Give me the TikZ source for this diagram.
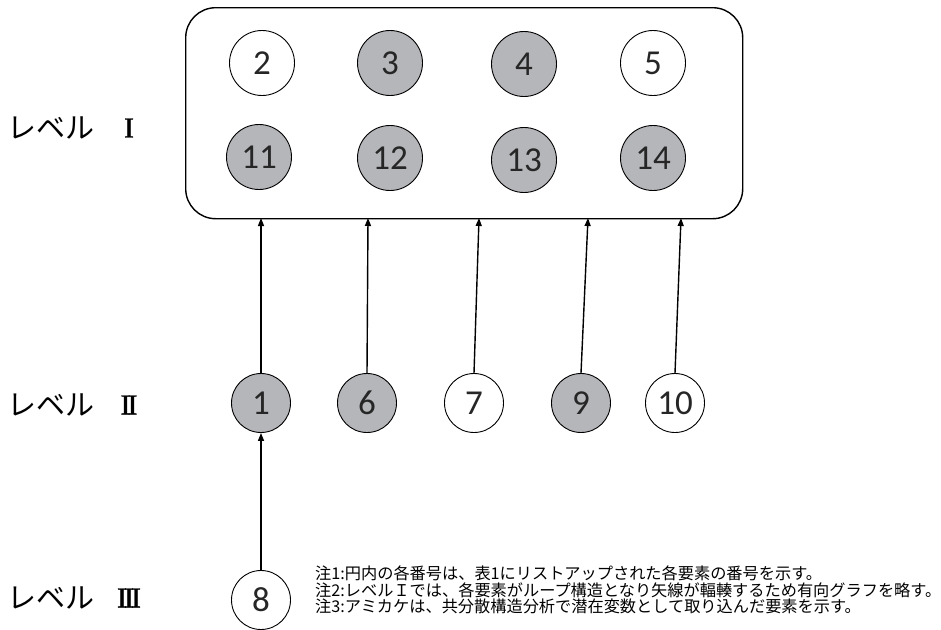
\documentclass[tikz,border=0pt]{standalone}
\usepackage{fontspec}
\setmainfont{Carlito}
\newfontfamily\jpfont{Noto Sans CJK JP}
\newfontfamily\romfont[FakeBold=1.5]{Liberation Serif}
\usetikzlibrary{arrows.meta}
\definecolor{fillgray}{RGB}{181,182,186}
\tikzset{
  elem/.style={circle, draw=black, line width=0.9pt, minimum size=65pt, inner sep=0pt,
    font=\fontsize{35}{35}\selectfont, text=black!85},
  shaded/.style={elem, fill=fillgray},
  plain/.style={elem, fill=white},
  conn/.style={line width=1.4pt, -{Triangle[length=8pt,width=6pt]}},
  lvl/.style={font=\jpfont\fontsize{29}{29}\selectfont, anchor=west, inner sep=0pt},
  rom/.style={font=\romfont\fontsize{29}{29}\selectfont, inner sep=0pt},
  note/.style={font=\jpfont\fontsize{16.2}{16.2}\selectfont, align=left, anchor=north west, inner sep=0pt}
}
\newcommand{\Rj}{\kern-2.6pt}
\begin{document}
\begin{tikzpicture}[x=1pt,y=-1pt]
\useasboundingbox (0,0) rectangle (941,629);
\node[draw, line width=1.4pt, rounded corners=30pt, minimum width=557pt, minimum height=211pt, anchor=north west] (box) at (185,7) {};
% level I
\node[plain]  (n2)  at (262,63) {2};
\node[shaded] (n3)  at (390,63) {3};
\node[shaded] (n4)  at (524,64) {4};
\node[plain]  (n5)  at (653,63) {5};
\node[shaded] (n11) at (259,157) {11};
\node[shaded] (n12) at (390,158) {12};
\node[shaded] (n13) at (524,160) {13};
\node[shaded] (n14) at (653,158) {14};
% level II
\node[shaded, minimum size=59pt] (n1)  at (261,403) {1};
\node[shaded, minimum size=59pt] (n6)  at (367,403) {6};
\node[plain,  minimum size=59pt] (n7)  at (474,403) {7};
\node[shaded, minimum size=59pt] (n9)  at (581,403) {9};
\node[plain,  minimum size=59pt] (n10) at (675,403) {10};
% level III
\node[plain, minimum size=59pt] (n8) at (261,600) {8};
% arrow targets on box bottom
\coordinate (t1) at (261,218);
\coordinate (t6) at (368,218);
\coordinate (t7) at (479,218);
\coordinate (t9) at (588,218);
\coordinate (t10) at (681,218);
\draw[conn] (n1.north) -- (t1);
\draw[conn] (n6.north) -- (t6);
\draw[conn] (n7.north) -- (t7);
\draw[conn] (n9.north) -- (t9);
\draw[conn] (n10.north) -- (t10);
\draw[conn] (n8.north) -- (n1.south);
% level labels
\node[lvl] (l1) at (7,128) {レベル};
\node[rom] (r1) at (129,128) {I};
\node[lvl] (l2) at (7,405) {レベル};
\node[rom] (r2) at (129,405) {I\Rj I};
\node[lvl] (l3) at (7,598) {レベル};
\node[rom] (r3) at (129,598) {I\Rj I\Rj I};
% notes
\node[note] (notes) at (315,566) {注1:円内の各番号は、表1にリストアップされた各要素の番号を示す。\\注2:レベルＩでは、各要素がループ構造となり矢線が輻輳するため有向グラフを略す。\\注3:アミカケは、共分散構造分析で潜在変数として取り込んだ要素を示す。};
\end{tikzpicture}
\end{document}
